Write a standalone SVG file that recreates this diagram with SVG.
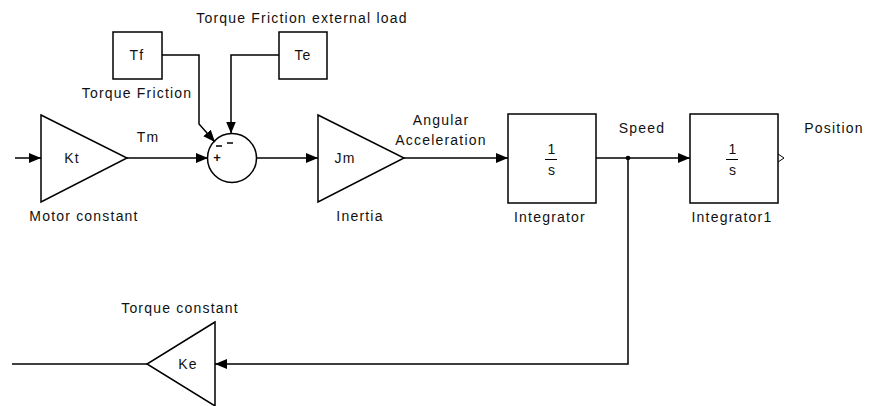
<svg xmlns="http://www.w3.org/2000/svg" width="869" height="406" viewBox="0 0 869 406">
<style>
.b{fill:#fff;stroke:#000;stroke-width:1.5}
.w{fill:none;stroke:#000;stroke-width:1.5}
text{font-family:"Liberation Sans",Arial,sans-serif;font-size:14px;fill:#111;letter-spacing:1.2px}
.c{text-anchor:middle}
.s{font-size:13px;letter-spacing:0;font-weight:bold}
</style>
<defs>
<marker id="a" viewBox="0 0 12 10" refX="12" refY="5" markerWidth="12" markerHeight="10" markerUnits="userSpaceOnUse" orient="auto">
<path d="M0,0 L12,5 L0,10 Z" fill="#000"/>
</marker>
</defs>
<rect width="869" height="406" fill="#fff"/>
<g id="motor-constant">
<polygon class="b" points="41,115 127,158 41,202"/>
<text class="c" x="72" y="163">Kt</text>
<text class="c" x="84" y="221">Motor constant</text>
</g>
<text class="c" x="148" y="142">Tm</text>
<g id="torque-friction">
<rect class="b" x="113" y="32" width="49" height="47"/>
<text class="c" x="137" y="60">Tf</text>
<text class="c" x="137" y="98">Torque Friction</text>
</g>
<g id="external-load">
<rect class="b" x="279" y="32" width="48" height="47"/>
<text class="c" x="303" y="60">Te</text>
<text class="c" x="302" y="23">Torque Friction external load</text>
</g>
<g id="sum">
<circle class="b" cx="232" cy="158" r="24.5"/>
<path class="w" d="M216,146 H222 M227,143 H233"/>
<text class="c s" x="217" y="162">+</text>
</g>
<g id="inertia">
<polygon class="b" points="318,115 404,158 318,202"/>
<text class="c" x="345" y="163">Jm</text>
<text class="c" x="360" y="221">Inertia</text>
</g>
<text class="c" x="441" y="125">Angular</text>
<text class="c" x="441" y="145">Acceleration</text>
<g id="integrator">
<rect class="b" x="508" y="114" width="88" height="89"/>
<text class="c" x="552" y="154">1</text>
<path class="w" d="M545,159.5 H557" style="stroke-width:1"/>
<text class="c" x="552" y="175">s</text>
<text class="c" x="550" y="222">Integrator</text>
</g>
<text class="c" x="642" y="133">Speed</text>
<g id="integrator1">
<rect class="b" x="690" y="114" width="88" height="89"/>
<text class="c" x="733" y="154">1</text>
<path class="w" d="M726,159.5 H738" style="stroke-width:1"/>
<text class="c" x="733" y="175">s</text>
<text class="c" x="732" y="222">Integrator1</text>
<path class="w" d="M778,154 L784,158 L778,162" style="stroke-width:1"/>
</g>
<text class="c" x="834" y="133">Position</text>
<g id="torque-constant">
<polygon class="b" points="215,322 147,364 215,406"/>
<text class="c" x="188" y="369">Ke</text>
<text class="c" x="180" y="313">Torque constant</text>
</g>
<g id="connectors">
<path class="w" d="M15,158 H41" marker-end="url(#a)"/>
<path class="w" d="M127,158 H208" marker-end="url(#a)"/>
<path class="w" d="M162,55 H199 V124 L215,142" marker-end="url(#a)"/>
<path class="w" d="M279,55 H231 V133.5" marker-end="url(#a)"/>
<path class="w" d="M256.5,158 H318" marker-end="url(#a)"/>
<path class="w" d="M404,158 H508" marker-end="url(#a)"/>
<path class="w" d="M596,158 H690" marker-end="url(#a)"/>
<path class="w" d="M628,158 V364 H215" marker-end="url(#a)"/>
<circle cx="628" cy="158" r="2.3" fill="#000"/>
<path class="w" d="M147,364 H12"/>
</g>
</svg>
